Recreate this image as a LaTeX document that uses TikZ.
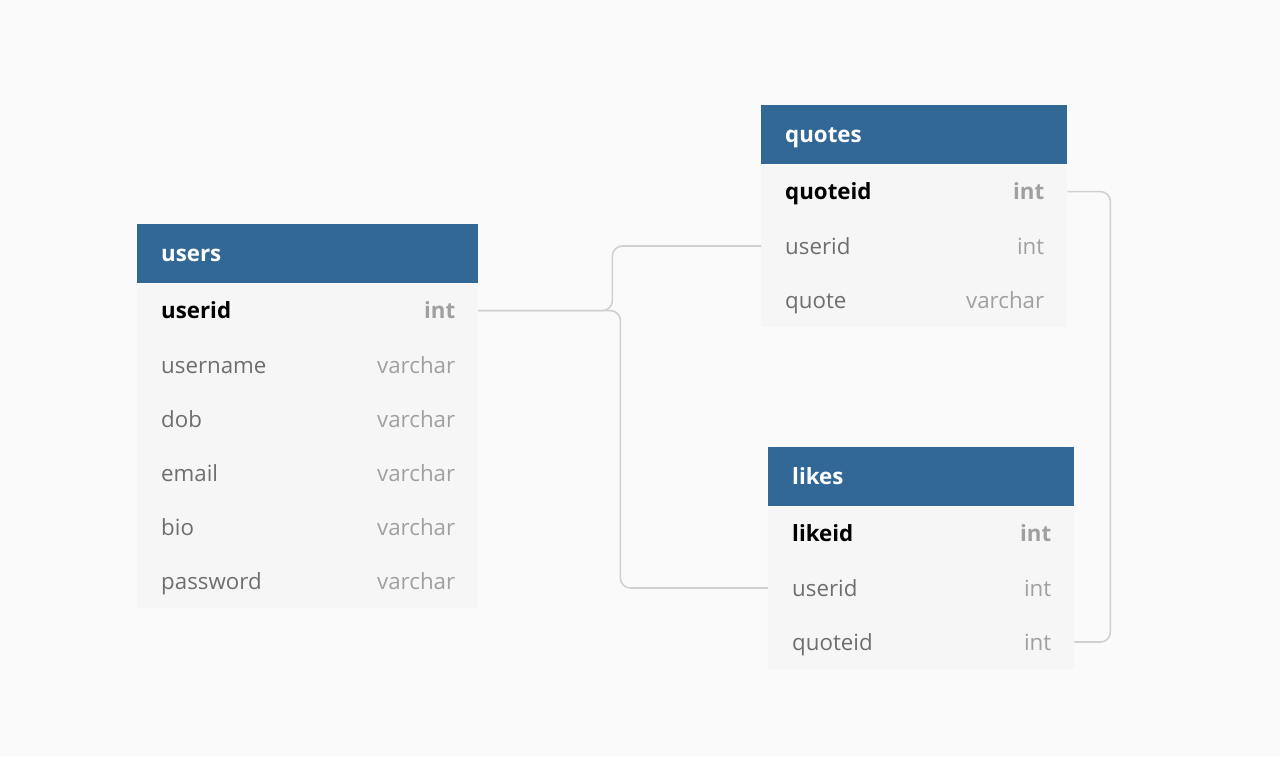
\documentclass[tikz,border=0pt]{standalone}
\usepackage{fontspec}
\setmainfont{Open Sans}
\usetikzlibrary{positioning}
\definecolor{headblue}{RGB}{49,104,150}
\definecolor{rowgray}{RGB}{246,246,246}
\definecolor{pagegray}{RGB}{250,250,250}
\definecolor{namegray}{RGB}{110,110,110}
\definecolor{typegray}{RGB}{160,160,160}
\definecolor{linkgray}{RGB}{208,208,208}
\begin{document}
\begin{tikzpicture}[x=1pt,y=-1pt,
    head/.style={fill=headblue, text=white, anchor=north west, minimum height=59pt,
        inner xsep=24pt, inner ysep=0pt, align=left, text height=21pt, text depth=5pt,
        font=\fontsize{22.3}{26}\selectfont\bfseries},
    row/.style={fill=rowgray, text=namegray, anchor=north west, minimum height=54pt,
        inner xsep=24pt, inner ysep=0pt, align=left, text height=21pt, text depth=5pt,
        font=\fontsize{22.3}{26}\selectfont},
    key/.style={text=black, font=\fontsize{22.3}{26}\selectfont\bfseries},
    type/.style={anchor=east, xshift=-23pt, text=typegray, inner sep=0pt,
        text height=21pt, text depth=5pt, font=\fontsize{22.3}{26}\selectfont},
    keytype/.style={type, font=\fontsize{22.3}{26}\selectfont\bfseries},
    link/.style={draw=linkgray, line width=1.6pt, rounded corners=10pt}]
    \fill[pagegray] (0,0) rectangle (1280,756);

    % users
    \node[head, text width=293pt] (users) at (137,224) {users};
    \node[row, key, text width=293pt] (users-userid) at (users.south west) {userid};
    \node[keytype] at (users-userid.east) {int};
    \foreach \col/\typ [count=\i] in {username/varchar,dob/varchar,email/varchar,bio/varchar,password/varchar}{
        \node[row, text width=293pt] (users-\col) at ([yshift=-\i*54pt+54pt]users-userid.south west) {\col};
        \node[type] at (users-\col.east) {\typ};
    }

    % quotes
    \node[head, text width=258pt] (quotes) at (761,105) {quotes};
    \node[row, key, text width=258pt] (quotes-quoteid) at (quotes.south west) {quoteid};
    \node[keytype] at (quotes-quoteid.east) {int};
    \foreach \col/\typ [count=\i] in {userid/int,quote/varchar}{
        \node[row, text width=258pt] (quotes-\col) at ([yshift=-\i*54pt+54pt]quotes-quoteid.south west) {\col};
        \node[type] at (quotes-\col.east) {\typ};
    }

    % likes
    \node[head, text width=258pt] (likes) at (768,447) {likes};
    \node[row, key, text width=258pt] (likes-likeid) at (likes.south west) {likeid};
    \node[keytype] at (likes-likeid.east) {int};
    \foreach \col/\typ [count=\i] in {userid/int,quoteid/int}{
        \node[row, text width=258pt] (likes-\col) at ([yshift=-\i*54pt+54pt]likes-likeid.south west) {\col};
        \node[type] at (likes-\col.east) {\typ};
    }

    % Verbindungen
    \draw[link] (users-userid.east) -- ++(134,0) |- (quotes-userid.west);
    \draw[link] (users-userid.east) -- ++(142,0) |- (likes-userid.west);
    \draw[link] (quotes-quoteid.east) -- ++(43,0) |- (likes-quoteid.east);
\end{tikzpicture}
\end{document}
